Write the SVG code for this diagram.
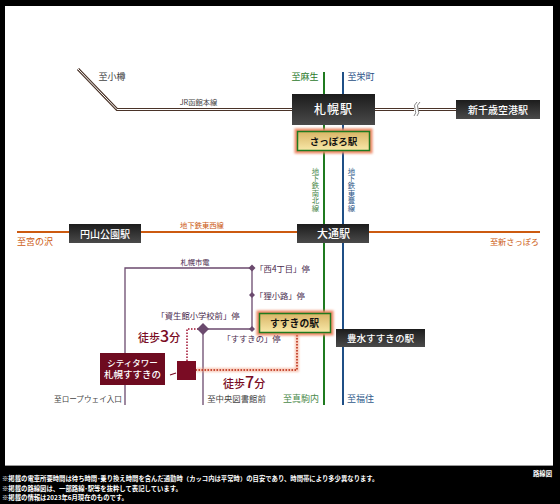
<svg xmlns="http://www.w3.org/2000/svg" width="560" height="504" viewBox="0 0 560 504">
<style>
text{font-family:"Noto Sans CJK JP","Liberation Serif",serif;}
.s{font-size:9px;fill:#444;text-anchor:middle}
.w{font-size:10px;fill:#fff;text-anchor:middle;font-weight:500}
.b{font-size:9.500px;fill:#111;text-anchor:middle;font-weight:700}
.foot{font-size:6.350px;fill:#fff;font-weight:700}
.tram{fill:none;stroke:#6b4a6e;stroke-width:1.3}
.dia{fill:#6b4a6e}
.v{font-size:7.400px;writing-mode:vertical-rl;text-orientation:upright}
.walk{font-size:11px;fill:#7a0c24;font-weight:500}
.walk tspan{font-size:16px}
</style>
<defs>
<linearGradient id="dk" x1="0" y1="0" x2="0" y2="1"><stop offset="0" stop-color="#1c1c1c"/><stop offset="1" stop-color="#4a4a4a"/></linearGradient>
<linearGradient id="gd" x1="0" y1="0" x2="0" y2="1"><stop offset="0" stop-color="#d9b566"/><stop offset="1" stop-color="#f8e8a8"/></linearGradient>
<filter id="gl" x="-20%" y="-40%" width="140%" height="180%"><feGaussianBlur stdDeviation="1.200"/></filter>
<filter id="gv" x="-300%" y="-5%" width="700%" height="110%"><feGaussianBlur stdDeviation="1.200"/></filter>
</defs>
<rect width="560" height="504" fill="#000"/>
<rect x="5" y="6" width="548" height="460" fill="#fff"/>
<rect x="5" y="465" width="548" height="1" fill="#999"/>
<g id="connectors">
<path d="M324 151V313" stroke="#f2a58c" stroke-width="5" fill="none" opacity=".6" filter="url(#gv)"/>
<path d="M324 72V405" stroke="#1f7a1f" stroke-width="2" fill="none"/>
<path d="M343 72V405" stroke="#1f4f86" stroke-width="2" fill="none"/>
<path d="M17 232H540" stroke="#cc5a10" stroke-width="2" fill="none"/>
<path d="M78 69L117 109.500H292M375 109.500H414M418 109.500H456" stroke="#4a3328" stroke-width="3" fill="none"/>
<path d="M78 69L117 109.500H292M375 109.500H414M418 109.500H456" stroke="#fff" stroke-width="1" fill="none"/>
<path d="M417 102q-4 3-2 7t-1 7M420 102q-4 3-2 7t-1 7" stroke="#666" stroke-width=".8" fill="#fff"/>
<path class="tram" d="M125 353V268H252V329H203M203 329V405M125 385V405"/>
<path d="M297 332V370H196" stroke="#f3a184" stroke-width="4" fill="none" opacity=".6" filter="url(#gl)"/>
<path d="M297 332V370H196" stroke="#b5260f" stroke-width="1.500" stroke-dasharray="1.500 1.500" fill="none"/>
<path d="M187 361V329H203" stroke="#a01030" stroke-width="1.500" stroke-dasharray="1.500 1.500" fill="none"/>
<path d="M170 375L176 373" stroke="#7a0c24" stroke-width="1.200" fill="none"/>
</g>
<g id="node-sapporo-jr"><rect x="292" y="94" width="83" height="31" fill="url(#dk)"/><text class="w" x="333.500" y="114" style="font-size:12px;letter-spacing:1px">札幌駅</text></g>
<g id="node-shin-chitose"><rect x="456" y="100" width="84" height="19" fill="url(#dk)"/><text class="w" x="498" y="114">新千歳空港駅</text></g>
<g id="node-sapporo-sub"><rect x="294.500" y="128.500" width="78" height="25" fill="#ee8a66" filter="url(#gl)"/><rect x="297.500" y="131.500" width="72" height="19" fill="url(#gd)" stroke="#1f7a1f" stroke-width="1.500"/><text class="b" x="333.500" y="144.500">さっぽろ駅</text></g>
<g id="node-maruyama"><rect x="69" y="224" width="72" height="19" fill="url(#dk)"/><text class="w" x="105" y="237.500">円山公園駅</text></g>
<g id="node-odori"><rect x="297" y="224" width="72" height="19" fill="url(#dk)"/><text class="w" x="333.500" y="237.500" style="font-size:11px">大通駅</text></g>
<g id="node-susukino"><rect x="256.500" y="310.500" width="77" height="25" fill="#ee8a66" filter="url(#gl)"/><rect x="259.500" y="313.500" width="71" height="19" fill="url(#gd)" stroke="#1f7a1f" stroke-width="1.500"/><text class="b" x="294.500" y="326.500" style="font-size:9.800px">すすきの駅</text></g>
<g id="node-hosui"><rect x="336" y="329" width="89" height="18" fill="url(#dk)"/><text class="w" x="380.500" y="341.500" style="font-size:9.600px">豊水すすきの駅</text></g>
<g id="node-tower"><rect x="100" y="353" width="65" height="32" fill="#6e0b20"/><text class="w" x="132.500" y="366" style="font-size:8.500px">シティタワー</text><text class="w" x="132.500" y="377.500" style="font-size:9.500px">札幌すすきの</text></g>
<g id="node-site"><rect x="177" y="361" width="19" height="19" fill="#7a0c24"/></g>
<g id="node-stops">
<path class="dia" d="M252 264.500l3.500 3.500-3.500 3.500-3.500-3.500z"/>
<path class="dia" d="M252 292l3 3-3 3-3-3z"/>
<path class="dia" d="M252 326l3 3-3 3-3-3z"/>
<path class="dia" d="M203 323l6 6-6 6-6-6z"/>
</g>
<g id="labels">
<text class="s" x="112" y="80">至小樽</text>
<text class="s" x="198.500" y="105" style="font-size:7.300px">JR函館本線</text>
<text class="s" x="305" y="80" style="fill:#2c7a2c">至麻生</text>
<text class="s" x="361" y="80" style="fill:#1f4f86">至栄町</text>
<text class="s" x="202" y="228" style="font-size:7.300px;fill:#cc5a10">地下鉄東西線</text>
<text class="s" x="35" y="245" style="fill:#cc5a10">至宮の沢</text>
<text class="s" x="514.500" y="245" style="font-size:8.200px;fill:#cc5a10">至新さっぽろ</text>
<text class="s" x="195" y="265" style="font-size:7.300px;fill:#4a2a4e">札幌市電</text>
<text class="v" x="315.500" y="167" style="fill:#4a8a4a">地下鉄南北線</text>
<text class="v" x="351.500" y="167" style="fill:#2f5a8a">地下鉄東豊線</text>
<text class="s" x="282.500" y="272" style="font-size:8.300px;fill:#4a2a4e">「西4丁目」停</text>
<text class="s" x="280" y="299" style="font-size:8.300px;fill:#4a2a4e">「狸小路」停</text>
<text class="s" x="198" y="319" style="font-size:8.300px;fill:#4a2a4e">「資生館小学校前」停</text>
<text class="s" x="251.500" y="342" style="font-size:8.300px;fill:#4a2a4e">「すすきの」停</text>
<text class="walk" x="138" y="342">徒歩<tspan>3</tspan>分</text>
<text class="walk" x="223" y="388">徒歩<tspan>7</tspan>分</text>
<text class="s" x="88" y="402" style="font-size:7.600px">至ロープウェイ入口</text>
<text class="s" x="236.500" y="402" style="font-size:8.400px">至中央図書館前</text>
<text class="s" x="301" y="402" style="fill:#4a8a4a">至真駒内</text>
<text class="s" x="360.500" y="402" style="fill:#2f5a8a">至福住</text>
<text class="foot" x="2" y="480.500">※掲載の電車所要時間は待ち時間･乗り換え時間を含んだ通勤時（カッコ内は平常時）の目安であり、時間帯により多少異なります。</text>
<text class="foot" x="2" y="491">※掲載の路線図は、一部路線･駅等を抜粋して表記しています。</text>
<text class="foot" x="2" y="500">※掲載の情報は2023年6月現在のものです。</text>
<text class="foot" x="533" y="476">路線図</text>
</g>
</svg>
